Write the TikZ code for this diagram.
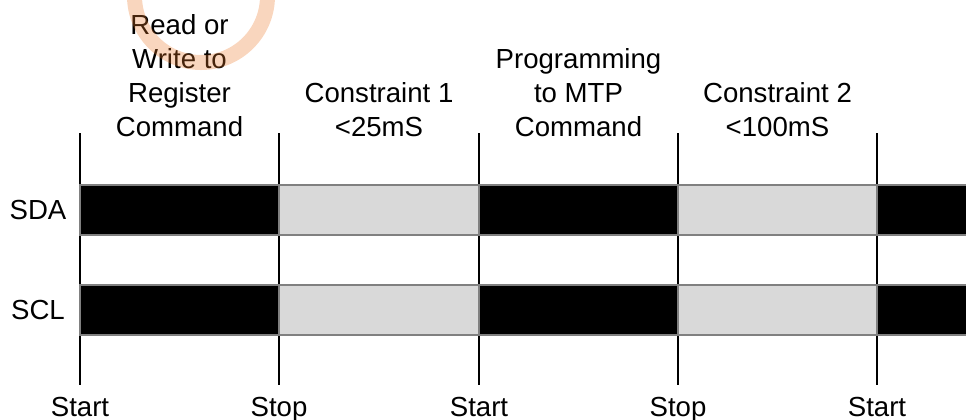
\documentclass[tikz,border=0pt]{standalone}
\usepackage{fontspec}
\setmainfont{Liberation Sans}
\usepackage{xcolor}
\usepackage{tikz}
\usetikzlibrary{positioning}

\definecolor{stamp}{RGB}{235,120,40}

\begin{document}
\begin{tikzpicture}[
    x=0.75pt, y=-0.75pt,
    every node/.style={font=\fontsize{20.7}{25.5}\selectfont},
    phase/.style={align=center, anchor=south, inner sep=0pt, text depth=0pt},
    edgelabel/.style={anchor=base, inner sep=0pt},
    siglabel/.style={anchor=center, inner sep=0pt},
    busy/.style={draw=black!50, fill=black, line width=1pt},
    idle/.style={draw=black!50, fill=black!15, line width=1pt},
    marker/.style={line width=2.2pt},
    ring/.style={draw=stamp, line width=11.25pt, draw opacity=0.3}
]
\useasboundingbox (0,0) rectangle (966,419);

% start / stop markers
\foreach \x/\lbl [count=\i] in {80/Start,279/Stop,479/Start,678/Stop,877/Start}{
  \coordinate (t\i) at (\x,133);
  \coordinate (b\i) at (\x,385);
  \node[edgelabel] (e\i) at (\x,416) {\lbl};
  \draw[marker] (t\i) -- (b\i);
}

% bus activity
\foreach \y in {185,285}{
  \foreach \a/\b/\s in {80/279/busy,279/479/idle,479/678/busy,678/877/idle,877/968/busy}
    \draw[\s] (\a,\y) rectangle (\b,\y+50);
}

\node[siglabel] (sda) at (38,210) {SDA};
\node[siglabel] (scl) at (38,310) {SCL};

\node[phase] (rw) at (179.5,137) {Read or\\Write to\\Register\\Command};
\node[phase] (c1) at (379,137) {Constraint 1\\<25mS};
\node[phase] (prog) at (578.5,137) {Programming\\to MTP\\Command};
\node[phase] (c2) at (777.5,137) {Constraint 2\\<100mS};

\coordinate (seal) at (201,-4);
\draw[ring] (seal) circle[radius=66.5];

\end{tikzpicture}
\end{document}
